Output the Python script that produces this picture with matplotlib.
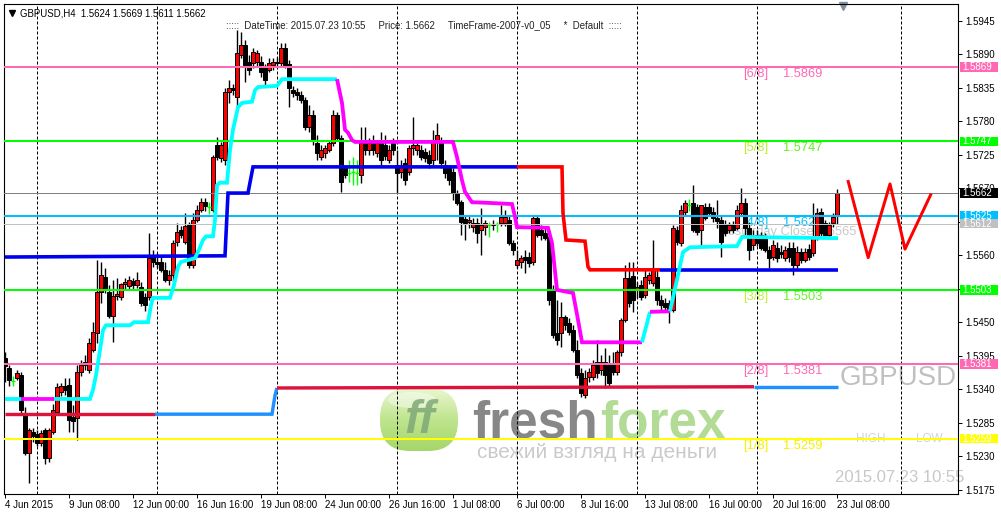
import numpy as np
import matplotlib.pyplot as plt
import matplotlib.transforms as mtransforms
from matplotlib.colors import LinearSegmentedColormap
from matplotlib.patches import Rectangle, FancyBboxPatch, Ellipse

plt.rcParams['font.family'] = ['Liberation Sans', 'DejaVu Sans']

# GBPUSD H4, bar 0 = 4 Jun 16:00 ... bar 208 = 23 Jul 08:00, prices in pips
opens = [15391, 15375, 15353, 15358, 15363, 15301, 15235, 15270, 15266, 15252,
         15273, 15227, 15270, 15302, 15335, 15345, 15347, 15294, 15293, 15368,
         15380, 15371, 15404, 15432, 15500, 15524, 15500, 15460, 15493, 15491,
         15513, 15509, 15518, 15511, 15508, 15491, 15491, 15555, 15549, 15549,
         15536, 15519, 15527, 15582, 15601, 15582, 15610, 15544, 15618, 15634,
         15647, 15639, 15634, 15741, 15720, 15716, 15828, 15835, 15820, 15889,
         15905, 15877, 15876, 15877, 15877, 15867, 15864, 15872, 15877, 15876,
         15900, 15874, 15831, 15828, 15823, 15815, 15770, 15790, 15744, 15721,
         15728, 15733, 15744, 15790, 15752, 15703, 15695, 15697, 15695, 15692,
         15744, 15733, 15744, 15728, 15744, 15741, 15716, 15744, 15708, 15697,
         15711, 15697, 15736, 15733, 15733, 15729, 15724, 15716, 15749, 15749,
         15708, 15703, 15697, 15662, 15647, 15619, 15614, 15606, 15613, 15601,
         15606, 15610, 15610, 15611, 15613, 15613, 15618, 15580, 15544, 15549,
         15557, 15557, 15549, 15621, 15601, 15596, 15590, 15503, 15432, 15432,
         15458, 15449, 15437, 15404, 15367, 15330, 15360, 15360, 15385, 15371,
         15385, 15380, 15383, 15368, 15401, 15454, 15523, 15526, 15503, 15511,
         15495, 15519, 15514, 15524, 15486, 15482, 15482, 15470, 15601, 15580,
         15631, 15642, 15646, 15639, 15601, 15639, 15639, 15631, 15621, 15618,
         15610, 15601, 15610, 15605, 15629, 15646, 15605, 15577, 15593, 15593,
         15590, 15569, 15557, 15572, 15565, 15555, 15572, 15572, 15544, 15565,
         15552, 15570, 15564, 15590, 15631, 15613, 15593, 15613, 15624]
highs = [15401, 15380, 15362, 15371, 15368, 15311, 15276, 15276, 15273, 15273,
         15276, 15276, 15316, 15350, 15350, 15358, 15358, 15314, 15380, 15388,
         15396, 15424, 15450, 15552, 15549, 15539, 15511, 15519, 15523, 15514,
         15523, 15526, 15523, 15532, 15516, 15498, 15596, 15569, 15564, 15560,
         15549, 15536, 15585, 15613, 15608, 15629, 15614, 15629, 15642, 15654,
         15654, 15647, 15724, 15754, 15746, 15835, 15848, 15841, 15930, 15926,
         15913, 15889, 15900, 15897, 15887, 15874, 15884, 15884, 15885, 15908,
         15908, 15880, 15838, 15835, 15830, 15820, 15807, 15798, 15757, 15741,
         15741, 15749, 15798, 15795, 15757, 15708, 15716, 15721, 15716, 15770,
         15770, 15752, 15757, 15749, 15762, 15757, 15741, 15752, 15733, 15716,
         15720, 15741, 15787, 15749, 15741, 15736, 15733, 15766, 15777, 15754,
         15716, 15708, 15703, 15667, 15651, 15626, 15626, 15621, 15621, 15638,
         15618, 15614, 15618, 15614, 15642, 15634, 15626, 15585, 15569, 15560,
         15569, 15565, 15626, 15626, 15610, 15605, 15593, 15511, 15486, 15483,
         15462, 15457, 15445, 15421, 15375, 15371, 15375, 15388, 15421, 15396,
         15408, 15396, 15401, 15404, 15457, 15544, 15549, 15549, 15516, 15519,
         15536, 15532, 15585, 15536, 15495, 15490, 15486, 15610, 15608, 15642,
         15651, 15652, 15675, 15644, 15642, 15646, 15646, 15639, 15651, 15626,
         15618, 15614, 15616, 15642, 15670, 15654, 15614, 15601, 15601, 15598,
         15596, 15575, 15585, 15582, 15577, 15575, 15582, 15582, 15575, 15572,
         15572, 15578, 15646, 15638, 15638, 15618, 15614, 15629, 15669]
lows = [15352, 15345, 15345, 15355, 15299, 15232, 15186, 15253, 15247, 15247,
        15217, 15220, 15266, 15298, 15329, 15330, 15270, 15270, 15256, 15362,
        15371, 15367, 15401, 15416, 15482, 15498, 15457, 15417, 15486, 15486,
        15503, 15503, 15503, 15506, 15477, 15468, 15486, 15541, 15539, 15532,
        15516, 15511, 15516, 15575, 15588, 15578, 15539, 15539, 15614, 15631,
        15633, 15628, 15631, 15716, 15713, 15708, 15810, 15823, 15803, 15884,
        15844, 15856, 15867, 15871, 15853, 15839, 15861, 15864, 15871, 15871,
        15867, 15803, 15820, 15815, 15810, 15766, 15762, 15741, 15716, 15716,
        15720, 15729, 15740, 15749, 15664, 15687, 15680, 15675, 15675, 15679,
        15724, 15724, 15724, 15721, 15708, 15716, 15711, 15724, 15662, 15687,
        15675, 15692, 15724, 15724, 15716, 15713, 15703, 15708, 15716, 15703,
        15687, 15675, 15651, 15642, 15593, 15585, 15605, 15598, 15580, 15560,
        15593, 15590, 15601, 15598, 15608, 15608, 15577, 15560, 15539, 15539,
        15531, 15541, 15544, 15590, 15585, 15585, 15478, 15424, 15413, 15409,
        15437, 15429, 15401, 15358, 15327, 15325, 15352, 15355, 15358, 15363,
        15342, 15345, 15363, 15363, 15394, 15450, 15475, 15467, 15490, 15486,
        15490, 15513, 15509, 15478, 15470, 15467, 15449, 15467, 15577, 15575,
        15626, 15633, 15598, 15593, 15577, 15618, 15624, 15614, 15605, 15557,
        15591, 15596, 15596, 15601, 15624, 15593, 15552, 15569, 15575, 15569,
        15565, 15539, 15552, 15549, 15555, 15550, 15549, 15527, 15539, 15547,
        15549, 15552, 15559, 15585, 15591, 15588, 15588, 15606, 15611]
closes = [15378, 15355, 15353, 15367, 15306, 15235, 15273, 15263, 15252, 15268,
          15227, 15273, 15306, 15344, 15345, 15339, 15289, 15288, 15368, 15380,
          15385, 15416, 15434, 15500, 15527, 15503, 15460, 15493, 15496, 15513,
          15516, 15519, 15511, 15519, 15482, 15478, 15555, 15549, 15546, 15536,
          15519, 15527, 15580, 15598, 15593, 15608, 15544, 15618, 15634, 15647,
          15641, 15639, 15721, 15721, 15741, 15828, 15835, 15831, 15892, 15905,
          15872, 15864, 15894, 15892, 15861, 15848, 15876, 15877, 15876, 15900,
          15872, 15835, 15826, 15823, 15815, 15770, 15790, 15749, 15728, 15733,
          15736, 15744, 15790, 15752, 15680, 15692, 15695, 15697, 15695, 15744,
          15733, 15744, 15733, 15744, 15716, 15723, 15733, 15733, 15695, 15706,
          15683, 15736, 15741, 15741, 15721, 15720, 15711, 15749, 15757, 15711,
          15695, 15683, 15662, 15646, 15614, 15613, 15618, 15613, 15596, 15610,
          15613, 15610, 15611, 15611, 15623, 15623, 15580, 15569, 15552, 15555,
          15552, 15547, 15621, 15593, 15593, 15588, 15486, 15429, 15421, 15458,
          15445, 15434, 15404, 15363, 15334, 15358, 15368, 15380, 15367, 15385,
          15363, 15350, 15368, 15401, 15454, 15523, 15482, 15486, 15508, 15491,
          15524, 15527, 15536, 15486, 15478, 15475, 15470, 15605, 15582, 15634,
          15646, 15642, 15601, 15598, 15642, 15621, 15629, 15621, 15616, 15582,
          15596, 15610, 15601, 15634, 15646, 15605, 15569, 15590, 15580, 15572,
          15569, 15555, 15577, 15555, 15562, 15569, 15557, 15544, 15565, 15552,
          15565, 15557, 15590, 15629, 15596, 15593, 15610, 15623, 15662]

time_ticks = [0, 16, 32, 48, 64, 80, 96, 112, 128, 144, 160, 176, 192, 208]
time_labels = ["4 Jun 2015", "9 Jun 08:00", "12 Jun 00:00", "16 Jun 16:00",
               "19 Jun 08:00", "24 Jun 00:00", "26 Jun 16:00", "1 Jul 08:00",
               "6 Jul 00:00", "8 Jul 16:00", "13 Jul 08:00", "16 Jul 00:00",
               "20 Jul 16:00", "23 Jul 08:00"]
week_starts = [8, 38, 68, 98, 128, 158, 188, 224]
price_ticks = [1.5175, 1.5230, 1.5285, 1.5340, 1.5395, 1.5450, 1.5505, 1.5560,
               1.5615, 1.5670, 1.5725, 1.5780, 1.5835, 1.5890, 1.5945]
hidden_ticks = [1.5505, 1.5615]   # covered by the price tags

# horizontal levels (Murrey lines, bid, pivots)
level_prices = [1.5869, 1.5747, 1.5662, 1.5625, 1.5612, 1.5503, 1.5381, 1.5259]
level_colors = ['#FF69B4', '#00FF00', '#808080', '#00BFFF', '#C0C0C0', '#00FF00', '#FF69B4', '#FFFF00']
level_px = [2, 2, 1, 2, 1, 2, 2, 2]
box_colors = ['#FF69B4', '#00FF00', '#000000', '#00BFFF', '#C0C0C0', '#00FF00', '#FF69B4', '#FFFF00']

mm_names = ['[6/8]', '[5/8]', '[4/8]', '[3/8]', '[2/8]', '[1/8]']
mm_prices = [1.5869, 1.5747, 1.5625, 1.5503, 1.5381, 1.5259]
mm_name_colors = ['#FF69B4', '#B8F030', '#00BFFF', '#C0F040', '#FF69B4', '#F5F000']
mm_val_colors = ['#FF69B4', '#66EE22', '#00BFFF', '#70EE30', '#FF69B4', '#F5F000']

# trend lines (bar, price in pips) and the bar ranges where each one changes colour
fast_bars = [0, 4, 12.25, 21.25, 22, 22.75, 23.75, 24.5, 25.25, 31.25, 32.25, 35.75,
             36.5, 37, 41.25, 42.25, 43.25, 44, 47.5, 48.5, 49.5, 50.25, 52, 52.5,
             53, 53.75, 55.5, 56.25, 57, 58.25, 59.25, 61.75, 62.5, 63.25, 68, 69.25,
             83, 84.25, 85, 85.75, 86.75, 87.5, 112, 113, 114.25, 115, 116.75, 120.5,
             126.75, 127.5, 128, 135.75, 136.75, 138, 142, 143.25, 144.25, 159.25,
             161.25, 166.25, 169.5, 171.25, 183, 184.25, 208.25]
fast_vals = [15324, 15324, 15324, 15324, 15339, 15363, 15404, 15437, 15445, 15445,
             15450, 15450, 15478, 15490, 15490, 15511, 15541, 15549, 15555, 15569,
             15585, 15591, 15591, 15618, 15675, 15679, 15679, 15733, 15766, 15803,
             15810, 15812, 15831, 15836, 15838, 15849, 15849, 15810, 15766, 15761,
             15749, 15746, 15746, 15721, 15683, 15664, 15647, 15646, 15644, 15623,
             15606, 15605, 15580, 15503, 15498, 15454, 15417, 15417, 15467, 15468,
             15565, 15573, 15575, 15590, 15588]
fast_down = [(4, 12.25), (83, 159.25), (161.25, 166.25)]

slow_bars = [0, 55, 55.75, 60.75, 62, 128, 139.25, 139.5, 140.25, 145, 145.75, 146.25, 163.75, 208.25]
slow_vals = [15557, 15559, 15662, 15662, 15705, 15705, 15705, 15629, 15585, 15583, 15541, 15536, 15536, 15536]
slow_down = [(128, 163.75)]

long_bars = [0, 37.5, 66.75, 67.5, 68, 187.25, 208.25]
long_vals = [15299, 15299, 15299, 15330, 15342, 15344, 15344]
long_up = [(37.5, 68), (187.25, 300)]

zz_bars = [210.8, 215.8, 221.25, 225, 231.4]
zz_vals = [15681, 15556, 15677, 15570, 15659]

PX = 0.72  # one pixel in points at 100 dpi

fig = plt.figure(figsize=(10.01, 5.14), dpi=100)
fig.patch.set_facecolor('white')

# background layer (watermark, screen labels) in pixel coordinates
wm = fig.add_axes([0, 0, 1, 1], zorder=0)
wm.set_xlim(0, 1001)
wm.set_ylim(514, 0)
wm.axis('off')

ax = fig.add_axes([4 / 1001, 20 / 514, 954 / 1001, 490 / 514], zorder=1)
ax.patch.set_alpha(0)
ax.set_xlim(-0.25, 238.25)
ax.set_ylim(1.516795, 1.597242)

for b in week_starts:
    ax.axvline(b, color='black', lw=PX, ls=(0, (3, 2)), zorder=1)

o = np.array(opens) / 1e4
h = np.array(highs) / 1e4
l = np.array(lows) / 1e4
c = np.array(closes) / 1e4
idx = np.arange(len(o))
up = c > o
dn = c < o
dj = c == o

ax.vlines(idx[~dj], l[~dj], h[~dj], color='black', lw=1.0, zorder=2)
ax.bar(idx[up], c[up] - o[up], bottom=o[up], width=0.8, color='#FF0000',
       edgecolor='black', lw=0.7, zorder=2.5)
ax.bar(idx[dn], o[dn] - c[dn], bottom=c[dn], width=0.8, color='black',
       edgecolor='black', lw=0.7, zorder=2.5)
ax.vlines(idx[dj], l[dj], h[dj], color='#00FF00', lw=1.0, zorder=2.5)
ax.hlines(o[dj], idx[dj] - 0.5, idx[dj] + 0.5, color='#00FF00', lw=1.0, zorder=2.5)

# texts hidden behind the candles
ax.text(178.75, 1.5598, 'Yesterday Close 1.5565', color='#C8C8C8', fontsize=9.3,
        va='center', ha='left', zorder=1.5)

for p, col, w in zip(level_prices, level_colors, level_px):
    ax.axhline(p, color=col, lw=w * PX, zorder=3)

for name, p, nc, vc in zip(mm_names, mm_prices, mm_name_colors, mm_val_colors):
    z = 1.5 if name == '[4/8]' else 3
    ax.text(184.5, p - 0.00115, name, color=nc, fontsize=9.3, va='center', ha='left', zorder=z)
    ax.text(194.5, p - 0.00115, '%.4f' % p, color=vc, fontsize=9.3, va='center', ha='left', zorder=z)


def draw_trend(bars, vals, ranges, c_in, c_out, lw):
    bars = np.asarray(bars, dtype=float)
    vals = np.asarray(vals) / 1e4
    inside = [any(a <= b0 < b1 for a, b1 in ranges) for b0 in bars[:-1]]
    start = 0
    for k in range(1, len(inside) + 1):
        if k == len(inside) or inside[k] != inside[start]:
            ax.plot(bars[start:k + 1], vals[start:k + 1], color=c_in if inside[start] else c_out,
                    lw=lw, solid_capstyle='butt', solid_joinstyle='miter', zorder=4)
            start = k


draw_trend(long_bars, long_vals, long_up, '#1E90FF', '#DC143C', 3.4 * PX)
draw_trend(slow_bars, slow_vals, slow_down, '#FF0000', '#0000F0', 3.6 * PX)
draw_trend(fast_bars, fast_vals, fast_down, '#FF00FF', '#00FFFF', 3.8 * PX)
ax.plot(zz_bars, np.array(zz_vals) / 1e4, color='#FF0000', lw=3 * PX, zorder=4)

# axes styling like the terminal
for s in ax.spines.values():
    s.set_color('black')
    s.set_linewidth(0.8)
ax.yaxis.tick_right()
ax.set_yticks(price_ticks)
ax.set_yticklabels(['' if t in hidden_ticks else '%.4f' % t for t in price_ticks])
ax.set_xticks(time_ticks)
ax.set_xticklabels(time_labels)
for lab in ax.get_xticklabels():
    lab.set_ha('left')
ax.tick_params(axis='y', direction='out', length=3, width=0.7, pad=2, labelsize=7, colors='black')
ax.tick_params(axis='x', direction='out', length=3, width=0.7, pad=1.5, labelsize=7, colors='black')

# price tags on the right scale
blend = mtransforms.blended_transform_factory(ax.transAxes, ax.transData)
half = 4.8 / 6091
for p, bc in zip(level_prices, box_colors):
    ax.add_patch(Rectangle((1.002, p - half), 38 / 954, 2 * half, transform=blend,
                           facecolor=bc, edgecolor='none', clip_on=False, zorder=5))
    ax.text(1.0 + 4 / 954, p, '%.4f' % p, transform=blend, color='white', fontsize=7,
            va='center', ha='left', clip_on=False, zorder=6)

# screen labels and watermark (behind the chart)
wm.plot(12, 13, marker='v', color='black', ms=4.5)
wm.text(20, 13, 'GBPUSD,H4  1.5624 1.5669 1.5611 1.5662', fontsize=6.9, va='center', ha='left')
wm.text(226, 25, ':::::  DateTime: 2015.07.23 10:55     Price: 1.5662     TimeFrame-2007-v0_05     *  Default  :::::',
        fontsize=6.9, va='center', ha='left', color='#222222')
wm.plot(843, 6, marker='v', color='#8090A0', ms=6)

blob = FancyBboxPatch((380, 388), 78, 63, boxstyle='round,pad=0,rounding_size=30',
                      fc='none', ec='none')
wm.add_patch(blob)
grad = np.linspace(0, 1, 64)[:, None] * np.ones((1, 8))
img = wm.imshow(grad, cmap=LinearSegmentedColormap.from_list('g', ['#E6F6C8', '#B4E07A', '#94CF4E']),
                extent=(380, 458, 451, 388), alpha=0.85, aspect='auto', interpolation='bicubic')
img.set_clip_path(blob)
wm.add_patch(Ellipse((412, 400), 48, 16, fc='white', ec='none', alpha=0.4))
wm.text(420, 421, 'ff', fontsize=34, fontweight='bold', style='italic', color='#7FA878',
        alpha=0.85, ha='center', va='center')
wm.text(472, 437, 'fresh', fontsize=37, fontweight='bold', color='#878787',
        ha='left', va='baseline')
wm.text(600, 437, 'forex', fontsize=37, fontweight='bold', color='#B2DC96',
        ha='left', va='baseline')
wm.text(477, 458, 'свежий взгляд на деньги', fontsize=15, color='#CACACA',
        ha='left', va='baseline')

wm.text(840, 378, 'GBPUSD', fontsize=20, color='#C0C0C0', ha='left', va='center')
wm.text(856, 439, 'HIGH', fontsize=8.5, color='#D2D2D2', ha='left', va='center')
wm.text(916, 439, 'LOW', fontsize=8.5, color='#D2D2D2', ha='left', va='center')
dt = wm.text(835, 478, '2015.07.23 10:55', fontsize=12, color='#C8C8C8', ha='left', va='center')
dt.set_clip_path(ax.patch)

fig.savefig('out.png', dpi=100, facecolor='white')
